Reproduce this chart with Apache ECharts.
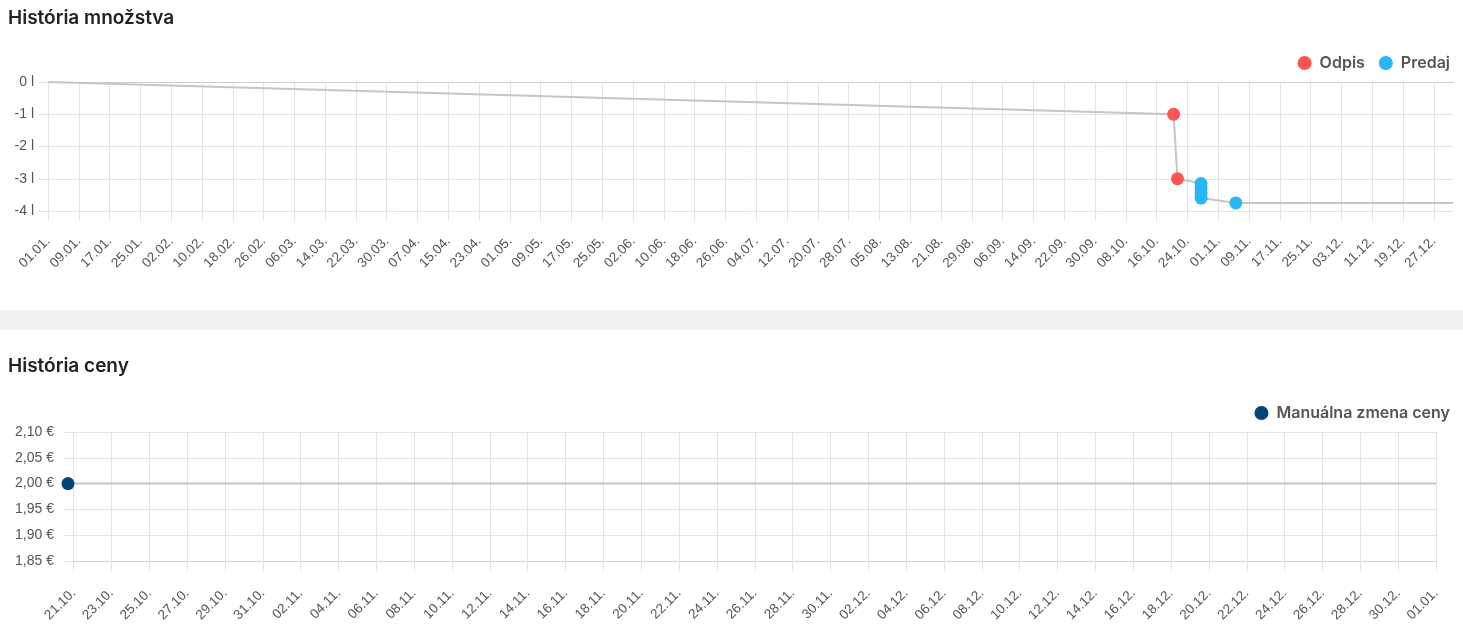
<!DOCTYPE html>
<html>
<head>
<meta charset="utf-8">
<script src="https://cdn.jsdelivr.net/npm/echarts@6/dist/echarts.min.js"></script>
<style>
html,body{margin:0;padding:0;background:#fff;}
#c{width:1463px;height:632px;}
</style>
</head>
<body>
<div id="c"></div>
<script>
// ---- data: quantity history ----
const qtyStartDate = '2025-01-01T00:00';
const qtyStartValue = 0;
const qtyAxisStart = '2025-01-01T00:00';
const qtyAxisEnd = '2026-01-01T00:00';
const qtyLastTick = '2025-12-27T00:00';
const odpisDates = ['2025-10-20T10:00', '2025-10-21T10:00'];
const odpisValues = [-1, -3];
const predajDates = ['2025-10-27T13:00', '2025-10-27T13:05', '2025-10-27T13:10', '2025-10-27T13:15', '2025-11-05T14:00'];
const predajValues = [-3.15, -3.3, -3.45, -3.6, -3.75];
const qtyTicks = [-4, -3, -2, -1, 0];

// ---- data: price history ----
const priceDates = ['2025-10-20T17:00'];
const priceValues = [2.00];
const priceAxisOrigin = '2025-10-21T00:00';
const priceAxisEnd = '2026-01-01T00:00';
const priceTicks = [1.85, 1.90, 1.95, 2.00, 2.05, 2.10];

const DAY = 86400000;
function ts(s){ return Date.parse(s + ':00Z'); }
function days(s, origin){ return (ts(s) - ts(origin)) / DAY; }
function fmtDay(d, origin){
  const dt = new Date(ts(origin) + Math.round(d) * DAY);
  const dd = String(dt.getUTCDate()).padStart(2,'0');
  const mm = String(dt.getUTCMonth()+1).padStart(2,'0');
  return dd + '.' + mm + '.';
}

// quantity line built from events
const events = [];
odpisDates.forEach((d,i)=>events.push([days(d, qtyAxisStart), odpisValues[i]]));
predajDates.forEach((d,i)=>events.push([days(d, qtyAxisStart), predajValues[i]]));
events.sort((a,b)=>a[0]-b[0]);
const qtyLine = [[days(qtyStartDate, qtyAxisStart), qtyStartValue]].concat(events);
qtyLine.push([days(qtyAxisEnd, qtyAxisStart), events[events.length-1][1]]);

const priceLine = priceDates.map((d,i)=>[days(d, priceAxisOrigin), priceValues[i]]);
priceLine.push([days(priceAxisEnd, priceAxisOrigin), priceValues[priceValues.length-1]]);

const labelFont = 'Liberation Sans, Arial, sans-serif';
const headFont = 'Inter, sans-serif';
const gridColor = '#e4e4e4';
const axisColor = '#cfcfcf';

const hiddenY = (g) => ({type: 'value', gridIndex: g, show: false, min: 0, max: 1});
const tickAxis = (g, min, max, interval, origin, margin) => ({
  type: 'value', gridIndex: g, min: min, max: max, interval: interval,
  axisLine: {show: false},
  axisTick: {show: true, length: 10, lineStyle: {color: gridColor}},
  splitLine: {show: true, lineStyle: {color: gridColor}},
  axisLabel: {rotate: 45, margin: margin, fontFamily: labelFont, fontSize: 13.5, color: '#555',
    formatter: v => fmtDay(v, origin)}
});
const dataAxis = (g, min, max) => ({
  type: 'value', gridIndex: g, min: min, max: max,
  axisLine: {show: true, lineStyle: {color: axisColor}},
  axisTick: {show: false}, splitLine: {show: false}, axisLabel: {show: false}
});

const chart = echarts.init(document.getElementById('c'), null, {renderer:'canvas'});
chart.setOption({
  animation: false,
  backgroundColor: '#fff',
  graphic: [{
    type: 'rect', left: 0, top: 310, shape: {width: 1463, height: 20},
    style: {fill: '#efefef'}, silent: true
  }],
  title: [
    {text: 'História množstva', left: 3, top: 4,
     textStyle: {fontFamily: headFont, fontSize: 19, fontWeight: 600, color: '#222'}},
    {text: 'História ceny', left: 3, top: 352,
     textStyle: {fontFamily: headFont, fontSize: 19, fontWeight: 600, color: '#222'}}
  ],
  legend: [
    {data: ['Odpis', 'Predaj'], right: 8, top: 50, icon: 'circle',
     itemWidth: 14, itemHeight: 14, itemGap: 14,
     textStyle: {fontFamily: headFont, fontSize: 16, fontWeight: 600, color: '#555', padding: [0,0,0,3]}},
    {data: ['Manuálna zmena ceny'], right: 8, top: 400, icon: 'circle',
     itemWidth: 14, itemHeight: 14,
     textStyle: {fontFamily: headFont, fontSize: 16, fontWeight: 600, color: '#555', padding: [0,0,0,3]}}
  ],
  grid: [
    {left: 48, right: 10, top: 82, height: 129},
    {left: 68, right: 27, top: 432, height: 129},
    {left: 73, right: 27, top: 432, height: 129},
    {left: 48, right: 15, top: 82, height: 129}
  ],
  xAxis: [
    dataAxis(0, 0, days(qtyAxisEnd, qtyAxisStart)),
    dataAxis(1, priceLine[0][0], days(priceAxisEnd, priceAxisOrigin)),
    tickAxis(2, 0, days(priceAxisEnd, priceAxisOrigin), 2, priceAxisOrigin, 30),
    tickAxis(3, 0, days(qtyLastTick, qtyAxisStart), 8, qtyAxisStart, 28)
  ],
  yAxis: [
    {type: 'value', gridIndex: 0, min: qtyTicks[0], max: qtyTicks[qtyTicks.length-1], interval: 1,
     axisLine: {show: true, lineStyle: {color: gridColor}},
     axisTick: {show: true, length: 10, lineStyle: {color: gridColor}},
     splitLine: {show: true, lineStyle: {color: gridColor}},
     axisLabel: {margin: 14, fontFamily: labelFont, fontSize: 14, color: '#555',
       formatter: v => Math.round(v) + ' l'}},
    {type: 'value', gridIndex: 1, min: priceTicks[0], max: priceTicks[priceTicks.length-1], interval: 0.05,
     axisLine: {show: true, lineStyle: {color: gridColor}},
     axisTick: {show: true, length: 10, lineStyle: {color: gridColor}},
     splitLine: {show: true, lineStyle: {color: gridColor}},
     axisLabel: {margin: 14, fontFamily: labelFont, fontSize: 14, color: '#555',
       formatter: v => v.toFixed(2).replace('.', ',') + ' €'}},
    hiddenY(2),
    hiddenY(3)
  ],
  series: [
    {type: 'line', name: 'qty', xAxisIndex: 0, yAxisIndex: 0, data: qtyLine,
     showSymbol: false, symbol: 'none', lineStyle: {color: '#c6c6c6', width: 2}, z: 3, silent: true},
    {type: 'scatter', name: 'Odpis', xAxisIndex: 0, yAxisIndex: 0,
     data: odpisDates.map((d,i)=>[days(d, qtyAxisStart), odpisValues[i]]),
     symbolSize: 13, itemStyle: {color: '#ff5252', opacity: 1}, z: 4},
    {type: 'scatter', name: 'Predaj', xAxisIndex: 0, yAxisIndex: 0,
     data: predajDates.map((d,i)=>[days(d, qtyAxisStart), predajValues[i]]),
     symbolSize: 13, itemStyle: {color: '#29b6f6', opacity: 1}, z: 4},
    {type: 'line', name: 'price', xAxisIndex: 1, yAxisIndex: 1, data: priceLine,
     showSymbol: false, symbol: 'none', lineStyle: {color: '#c6c6c6', width: 2}, z: 3, silent: true},
    {type: 'scatter', name: 'Manuálna zmena ceny', xAxisIndex: 1, yAxisIndex: 1,
     data: priceDates.map((d,i)=>[days(d, priceAxisOrigin), priceValues[i]]),
     symbolSize: 13, itemStyle: {color: '#00467a', opacity: 1}, z: 4, clip: false}
  ]
});

// align the tick grids with the data axes using the library's own scales
const W = chart.getWidth();
const priceTick0 = chart.convertToPixel({xAxisIndex: 1}, 0);
const priceEndPx = chart.convertToPixel({xAxisIndex: 1}, days(priceAxisEnd, priceAxisOrigin));
const qtyLastPx = chart.convertToPixel({xAxisIndex: 0}, days(qtyLastTick, qtyAxisStart));
chart.setOption({
  grid: [{}, {}, {left: priceTick0, right: W - priceEndPx}, {left: 48, right: W - qtyLastPx}]
});
</script>
</body>
</html>
